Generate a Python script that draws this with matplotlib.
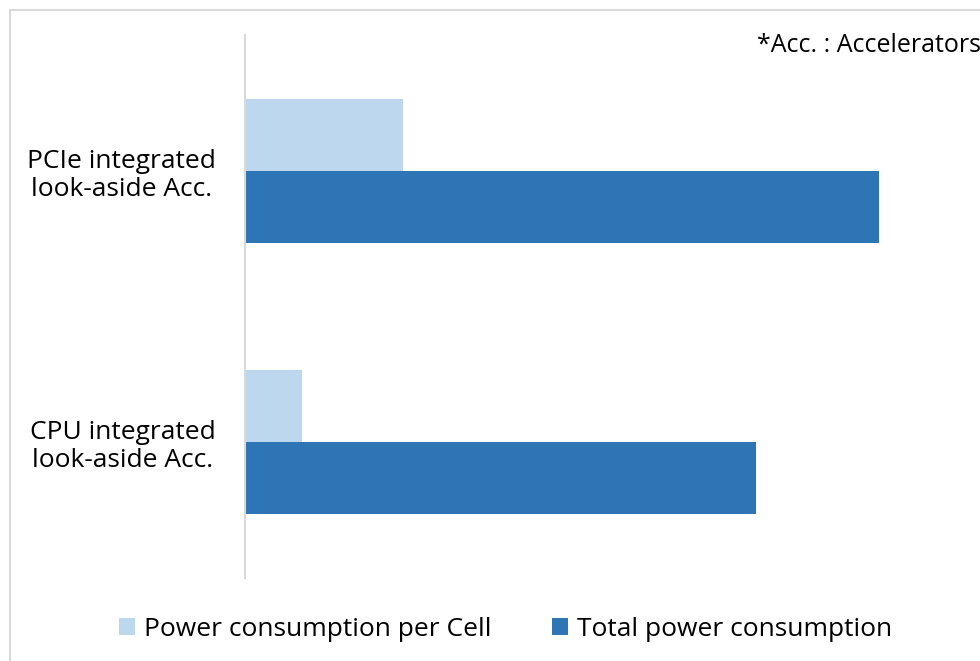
import matplotlib
matplotlib.use('Agg')
import matplotlib.pyplot as plt
import matplotlib.patches as mpatches

categorias = ['CPU integrated\nlook-aside Acc.', 'PCIe integrated\nlook-aside Acc.']
consumo_por_celula = [57, 158]
consumo_total = [511, 634]

cor_clara = '#BDD7EE'
cor_escura = '#2E75B6'
cor_borda = '#D9D9D9'
cor_texto = '#000000'

plt.rcParams['font.family'] = ['Open Sans', 'DejaVu Sans']

fig = plt.figure(figsize=(9.8, 6.61), dpi=100)
ax = fig.add_axes([0.25, 0.1256, 0.714, 0.8215])

altura = 0.265
pos = list(range(len(categorias)))
ax.barh([p + altura / 2 for p in pos], consumo_por_celula, height=altura,
        color=cor_clara, label='Power consumption per Cell')
ax.barh([p - altura / 2 for p in pos], consumo_total, height=altura,
        color=cor_escura, label='Total power consumption')

ax.set_xlim(0, 700)
ax.set_ylim(-0.5, 1.5)
ax.set_xticks([])
ax.set_yticks(pos)
ax.set_yticklabels(categorias, fontsize=19, color=cor_texto,
                   multialignment='center', linespacing=1.15)
ax.tick_params(axis='y', length=0, pad=21)
for lado in ['top', 'right', 'bottom']:
    ax.spines[lado].set_visible(False)
ax.spines['left'].set_color(cor_borda)
ax.spines['left'].set_linewidth(1.5)

fig.text(757 / 980, 1 - 46 / 661, '*Acc. : Accelerators', fontsize=18,
         ha='left', va='center', color=cor_texto)

fig.legend(loc='center', bbox_to_anchor=(0.516, 1 - 629 / 661), ncol=2,
           fontsize=19, frameon=False, handlelength=0.6, handleheight=0.6,
           handletextpad=0.35, columnspacing=2.3)

# moldura do gráfico
fig.patches.append(mpatches.Rectangle((10 / 980, -0.05), 1.2, 1 - 10 / 661 + 0.05,
                                      transform=fig.transFigure, fill=False,
                                      edgecolor=cor_borda, linewidth=1.5))

fig.savefig('out.png', dpi=100, facecolor='white')
